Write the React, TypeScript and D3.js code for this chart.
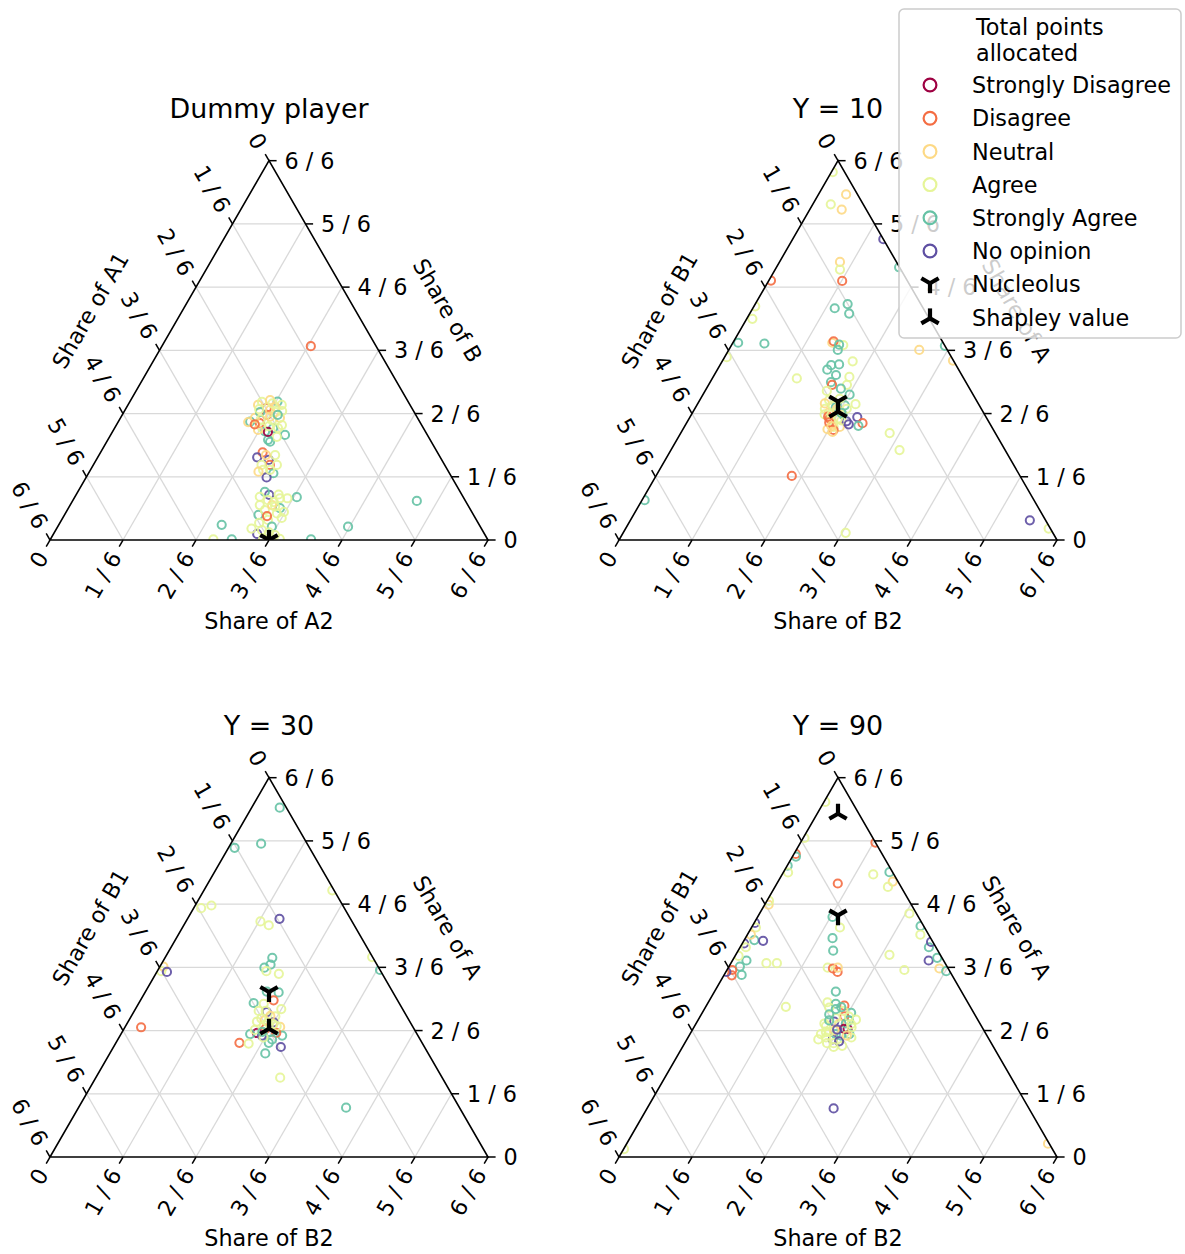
import React from 'react';
import * as d3 from 'd3';

// ---------- data ----------
const CATEGORIES = ['Strongly Disagree', 'Disagree', 'Neutral', 'Agree', 'Strongly Agree', 'No opinion'];
const COLORS = ['#9e0142', '#f46d43', '#fdd985', '#e6f598', '#66c2a5', '#5e4fa2'];
const TICK_VALUES = [0, 1, 2, 3, 4, 5, 6];
const TICK_LABELS = ['0', '1 / 6', '2 / 6', '3 / 6', '4 / 6', '5 / 6', '6 / 6'];
const TITLES = ['Dummy player', 'Y = 10', 'Y = 30', 'Y = 90'];
const LEFT_LABELS = ['Share of A1', 'Share of B1', 'Share of B1', 'Share of B1'];
const BOTTOM_LABELS = ['Share of A2', 'Share of B2', 'Share of B2', 'Share of B2'];
const RIGHT_LABELS = ['Share of B', 'Share of A', 'Share of A', 'Share of A'];

// points: [share of top corner, share of right corner, category index]
const DUMMY_POINTS: number[][] = [
  [0.365, 0.337, 4], [0.356, 0.351, 3], [0.308, 0.325, 1], [0.312, 0.301, 4], [0.277, 0.398, 4], [0.259, 0.373, 4],
  [0.272, 0.382, 3], [0.286, 0.348, 4], [0.330, 0.330, 1], [0.348, 0.321, 1], [0.295, 0.362, 4], [0.264, 0.366, 4],
  [0.356, 0.297, 2], [0.364, 0.302, 3], [0.343, 0.331, 2], [0.337, 0.347, 3], [0.322, 0.307, 2], [0.295, 0.337, 3],
  [0.316, 0.349, 3], [0.322, 0.364, 2], [0.295, 0.373, 3], [0.311, 0.297, 2], [0.369, 0.318, 2], [0.285, 0.355, 0],
  [0.303, 0.378, 3], [0.337, 0.311, 4], [0.350, 0.340, 2], [0.340, 0.360, 3], [0.325, 0.340, 2], [0.300, 0.350, 3],
  [0.318, 0.322, 3], [0.345, 0.305, 3], [0.290, 0.330, 2], [0.360, 0.328, 3], [0.305, 0.315, 1], [0.330, 0.355, 4],
  [0.231, 0.370, 1], [0.218, 0.364, 5], [0.211, 0.394, 5], [0.198, 0.403, 1], [0.224, 0.402, 3], [0.198, 0.384, 3],
  [0.185, 0.394, 3], [0.176, 0.422, 4], [0.165, 0.412, 5], [0.180, 0.386, 2], [0.198, 0.419, 3], [0.224, 0.381, 2],
  [0.185, 0.410, 3],
  [0.119, 0.441, 5], [0.127, 0.427, 4], [0.113, 0.507, 4], [0.110, 0.470, 3], [0.110, 0.487, 3], [0.114, 0.422, 3],
  [0.066, 0.443, 4], [0.084, 0.483, 4], [0.070, 0.483, 3], [0.079, 0.451, 3], [0.053, 0.471, 3], [0.035, 0.489, 4],
  [0.016, 0.465, 5], [0.026, 0.471, 3], [0.013, 0.507, 3], [0.003, 0.523, 3], [0.092, 0.433, 3], [0.100, 0.461, 3],
  [0.063, 0.464, 1], [0.003, 0.485, 3], [0.092, 0.461, 2], [0.074, 0.497, 3], [0.045, 0.455, 3], [0.058, 0.500, 3],
  [0.030, 0.445, 3], [0.088, 0.470, 3], [0.105, 0.445, 3], [0.020, 0.490, 3], [0.120, 0.462, 3],
  [0.040, 0.372, 4], [0.002, 0.372, 3], [0.002, 0.414, 4], [0.002, 0.595, 4], [0.035, 0.663, 4], [0.103, 0.786, 4],
  [0.511, 0.340, 1],
];

const Y10_POINTS: number[][] = [
  [0.970, 0.003, 3], [0.911, 0.063, 2], [0.885, 0.041, 3], [0.871, 0.073, 2], [0.793, 0.207, 5], [0.733, 0.138, 2],
  [0.713, 0.148, 3], [0.683, 0.168, 1], [0.684, 0.005, 1], [0.719, 0.280, 4], [0.611, 0.187, 4], [0.622, 0.211, 4],
  [0.597, 0.227, 4], [0.616, 0.003, 3], [0.583, 0.013, 3], [0.520, 0.012, 4], [0.518, 0.073, 4], [0.482, 0.005, 3],
  [0.520, 0.227, 2], [0.524, 0.228, 1], [0.514, 0.255, 3], [0.515, 0.245, 4], [0.501, 0.249, 4], [0.501, 0.435, 2],
  [0.512, 0.488, 4], [0.473, 0.526, 2], [0.471, 0.298, 3], [0.461, 0.254, 4], [0.463, 0.271, 4], [0.426, 0.193, 3],
  [0.449, 0.251, 4], [0.435, 0.278, 4], [0.430, 0.311, 3], [0.416, 0.276, 4], [0.409, 0.282, 1], [0.409, 0.316, 3],
  [0.399, 0.307, 4], [0.393, 0.278, 3], [0.383, 0.335, 4], [0.358, 0.361, 3], [0.369, 0.295, 3], [0.346, 0.297, 3],
  [0.355, 0.338, 4], [0.336, 0.311, 2], [0.331, 0.304, 3], [0.324, 0.382, 5], [0.308, 0.402, 1], [0.301, 0.396, 4],
  [0.308, 0.334, 2], [0.320, 0.321, 1], [0.298, 0.355, 2], [0.313, 0.363, 5], [0.298, 0.341, 3], [0.331, 0.345, 4],
  [0.346, 0.347, 3], [0.282, 0.477, 3], [0.237, 0.522, 3], [0.169, 0.310, 1], [0.105, 0.006, 4], [0.052, 0.912, 5],
  [0.030, 0.966, 3], [0.019, 0.508, 3], [0.360, 0.290, 2], [0.325, 0.315, 1], [0.290, 0.345, 1], [0.292, 0.330, 2],
  [0.340, 0.330, 3], [0.315, 0.350, 3], [0.350, 0.320, 4], [0.372, 0.318, 3], [0.305, 0.372, 5],
  [0.330, 0.320, 3], [0.345, 0.325, 2], [0.320, 0.340, 3], [0.310, 0.325, 1], [0.300, 0.335, 2], [0.335, 0.340, 4],
  [0.355, 0.310, 3], [0.285, 0.345, 2],
];

const Y30_POINTS: number[][] = [
  [0.921, 0.064, 4], [0.815, 0.014, 4], [0.826, 0.069, 4], [0.703, 0.293, 3], [0.656, 0.017, 3], [0.663, 0.037, 3],
  [0.621, 0.170, 3], [0.611, 0.194, 3], [0.628, 0.210, 5], [0.525, 0.245, 4], [0.507, 0.250, 4], [0.499, 0.240, 4],
  [0.490, 0.249, 3], [0.483, 0.281, 3], [0.502, 0.008, 2], [0.490, 0.009, 3], [0.488, 0.023, 5], [0.527, 0.472, 3],
  [0.493, 0.507, 4], [0.434, 0.305, 4], [0.436, 0.277, 4], [0.406, 0.262, 4], [0.413, 0.304, 1], [0.404, 0.286, 3],
  [0.390, 0.333, 3], [0.382, 0.304, 5], [0.385, 0.284, 3], [0.371, 0.329, 3], [0.357, 0.294, 3], [0.355, 0.333, 5],
  [0.348, 0.314, 3], [0.343, 0.354, 2], [0.338, 0.323, 1], [0.329, 0.338, 4], [0.327, 0.309, 0], [0.324, 0.295, 4],
  [0.320, 0.324, 5], [0.320, 0.370, 4], [0.327, 0.353, 1], [0.310, 0.352, 4], [0.301, 0.349, 4], [0.290, 0.382, 5],
  [0.301, 0.282, 1], [0.299, 0.304, 3], [0.273, 0.355, 4], [0.209, 0.421, 3], [0.130, 0.611, 4], [0.342, 0.037, 1],
  [0.385, 0.300, 3], [0.372, 0.317, 2], [0.350, 0.335, 3], [0.335, 0.300, 3], [0.360, 0.310, 2], [0.315, 0.330, 3],
  [0.345, 0.345, 3], [0.355, 0.320, 3], [0.330, 0.320, 4], [0.365, 0.300, 3],
];

const Y90_POINTS: number[][] = [
  [0.936, 0.003, 3], [0.841, 0.003, 3], [0.829, 0.171, 1], [0.799, 0.004, 1], [0.792, 0.008, 4], [0.768, 0.001, 4],
  [0.750, 0.011, 3], [0.721, 0.139, 1], [0.745, 0.208, 3], [0.751, 0.242, 4], [0.726, 0.262, 2], [0.712, 0.258, 3],
  [0.665, 0.009, 2], [0.675, 0.005, 3], [0.633, 0.171, 4], [0.605, 0.202, 3], [0.642, 0.342, 3], [0.617, 0.002, 5],
  [0.605, 0.010, 3], [0.572, 0.023, 4], [0.570, 0.044, 5], [0.563, 0.004, 5], [0.586, 0.008, 2], [0.553, 0.013, 3],
  [0.609, 0.384, 4], [0.586, 0.395, 3], [0.553, 0.431, 4], [0.567, 0.429, 5], [0.518, 0.448, 5], [0.525, 0.464, 4],
  [0.497, 0.483, 2], [0.490, 0.502, 4], [0.533, 0.351, 3], [0.493, 0.405, 3], [0.577, 0.199, 4], [0.544, 0.217, 4],
  [0.511, 0.081, 3], [0.511, 0.105, 3], [0.518, 0.032, 4], [0.502, 0.025, 4], [0.493, 0.012, 1], [0.479, 0.018, 1],
  [0.480, 0.040, 4], [0.488, 0.001, 5], [0.530, 0.008, 3], [0.499, 0.227, 3], [0.497, 0.240, 1], [0.488, 0.255, 1],
  [0.499, 0.250, 2], [0.396, 0.183, 3], [0.436, 0.277, 4], [0.128, 0.426, 5], [0.035, 0.962, 2], [0.021, 0.001, 3],
  [0.399, 0.315, 1], [0.380, 0.340, 4], [0.408, 0.272, 3], [0.404, 0.293, 4], [0.362, 0.360, 3], [0.357, 0.313, 5],
  [0.352, 0.293, 3], [0.371, 0.329, 1], [0.338, 0.353, 0], [0.329, 0.308, 3], [0.310, 0.333, 5], [0.320, 0.347, 4],
  [0.293, 0.363, 3], [0.324, 0.364, 4], [0.315, 0.373, 3], [0.394, 0.283, 3], [0.352, 0.327, 2], [0.352, 0.342, 4],
  [0.324, 0.299, 3], [0.338, 0.345, 0], [0.324, 0.333, 4], [0.366, 0.312, 3], [0.376, 0.292, 4], [0.334, 0.325, 2],
  [0.345, 0.300, 3], [0.300, 0.340, 3], [0.385, 0.320, 3], [0.360, 0.345, 4], [0.315, 0.315, 3], [0.305, 0.350, 5],
  [0.390, 0.300, 4], [0.342, 0.360, 3], [0.330, 0.315, 3], [0.300, 0.325, 3], [0.370, 0.340, 3], [0.350, 0.355, 3],
  [0.320, 0.360, 2], [0.395, 0.310, 4], [0.310, 0.300, 3], [0.336, 0.330, 5], [0.360, 0.300, 4], [0.290, 0.345, 3],
];

const PANEL_POINTS = [DUMMY_POINTS, Y10_POINTS, Y30_POINTS, Y90_POINTS];
// [share of top corner, share of right corner]
const NUCLEOLUS = [[0.0, 0.5], [0.365, 0.3175], [0.435, 0.2825], [0.637, 0.1815]];
const SHAPLEY = [[0.0, 0.5], [0.338, 0.331], [0.338, 0.331], [0.905, 0.0475]];

// ---------- layout ----------
const WIDTH = 1185;
const HEIGHT = 1254;
const SIDE = 438;
const TRI_H = SIDE * Math.sqrt(3) / 2;
const ORIGINS = [[50, 540], [619, 540], [50, 1157], [619, 1157]];
const FONT = 'DejaVu Sans, Liberation Sans, sans-serif';
const FS = 22.3;
const TITLE_FS = 26.9;
const TICK_LEN = 7.6;
const LABEL_OFF = 15.4;
const S3 = Math.sqrt(3) / 2;

function TriMarker({ x, y, down, L = 10, sw = 4.2 }: { x: number; y: number; down: boolean; L?: number; sw?: number }) {
  const arms = down ? [[0, 1], [-S3, -0.5], [S3, -0.5]] : [[0, -1], [-S3, 0.5], [S3, 0.5]];
  return (
    <g>
      {arms.map(([dx, dy], i) => (
        <line key={i} x1={x} y1={y} x2={x + dx * L} y2={y + dy * L} stroke="black" strokeWidth={sw} />
      ))}
    </g>
  );
}

function Ternary({ idx }: { idx: number }) {
  const [x0, y0] = ORIGINS[idx];
  const xs = d3.scaleLinear().domain([0, 1]).range([x0, x0 + SIDE]);
  const ys = d3.scaleLinear().domain([0, 1]).range([y0, y0 - TRI_H]);
  const pos = (t: number, r: number): [number, number] => [xs(r + t / 2), ys(t)];
  const tri = d3.line()([pos(0, 0), pos(0, 1), pos(1, 0)]) + 'Z';
  const inner = TICK_VALUES.slice(1, 6).map((k) => k / 6);
  const clipId = `tri-clip-${idx}`;

  const grid: [number, number][][] = [];
  inner.forEach((v) => {
    grid.push([pos(v, 0), pos(v, 1 - v)]); // constant top share
    grid.push([pos(0, v), pos(1 - v, v)]); // constant right share
    grid.push([pos(1 - v, 0), pos(0, 1 - v)]); // constant left share
  });

  const pts = PANEL_POINTS[idx];
  const nuc = NUCLEOLUS[idx];
  const shp = SHAPLEY[idx];
  const [nx, ny] = pos(nuc[0], nuc[1]);
  const [sx, sy] = pos(shp[0], shp[1]);

  const rightMid = pos(0.5, 0.5);
  const leftMid = pos(0.5, 0);

  return (
    <g fontFamily={FONT}>
      <defs>
        <clipPath id={clipId}><path d={tri} /></clipPath>
      </defs>
      <text x={xs(0.5)} y={ys(1) - 43} fontSize={TITLE_FS} textAnchor="middle">{TITLES[idx]}</text>
      {grid.map((g, i) => (
        <line key={i} x1={g[0][0]} y1={g[0][1]} x2={g[1][0]} y2={g[1][1]} stroke="#d9d9d9" strokeWidth={1.3} />
      ))}
      <g clipPath={`url(#${clipId})`}>
        {pts.map((p, i) => {
          const [px, py] = pos(p[0], p[1]);
          return <circle key={i} cx={px} cy={py} r={4.1} fill="none" stroke={COLORS[p[2]]} strokeWidth={2} opacity={0.9} />;
        })}
        <TriMarker x={nx} y={ny} down={true} />
        <TriMarker x={sx} y={sy} down={false} />
      </g>
      <path d={tri} fill="none" stroke="black" strokeWidth={1.6} />
      {/* right axis ticks (top share) */}
      {TICK_VALUES.map((k, i) => {
        const v = k / 6;
        const [px, py] = pos(v, 1 - v);
        return (
          <g key={'r' + i}>
            <line x1={px} y1={py} x2={px + TICK_LEN} y2={py} stroke="black" strokeWidth={1.5} />
            <text x={px + LABEL_OFF} y={py} dy="0.36em" fontSize={FS}>{TICK_LABELS[i]}</text>
          </g>
        );
      })}
      {/* left axis ticks (left share, 0 at top) */}
      {TICK_VALUES.map((k, i) => {
        const v = k / 6;
        const [px, py] = pos(1 - v, 0);
        const dx = -0.5, dy = -S3;
        const lx = px + dx * LABEL_OFF, ly = py + dy * LABEL_OFF;
        return (
          <g key={'l' + i}>
            <line x1={px} y1={py} x2={px + dx * TICK_LEN} y2={py + dy * TICK_LEN} stroke="black" strokeWidth={1.5} />
            <text x={lx} y={ly} dy="0.36em" fontSize={FS} textAnchor="end" transform={`rotate(60 ${lx} ${ly})`}>{TICK_LABELS[i]}</text>
          </g>
        );
      })}
      {/* bottom axis ticks (right share) */}
      {TICK_VALUES.map((k, i) => {
        const v = k / 6;
        const [px, py] = pos(0, v);
        const dx = -0.5, dy = S3;
        const lx = px + dx * LABEL_OFF, ly = py + dy * LABEL_OFF;
        return (
          <g key={'b' + i}>
            <line x1={px} y1={py} x2={px + dx * TICK_LEN} y2={py + dy * TICK_LEN} stroke="black" strokeWidth={1.5} />
            <text x={lx} y={ly} dy="0.36em" fontSize={FS} textAnchor="end" transform={`rotate(-60 ${lx} ${ly})`}>{TICK_LABELS[i]}</text>
          </g>
        );
      })}
      {/* axis labels */}
      <text x={xs(0.5)} y={ys(0) + 81} dy="0.36em" fontSize={FS} textAnchor="middle">{BOTTOM_LABELS[idx]}</text>
      {(() => {
        const cx = rightMid[0] + 80 * S3, cy = rightMid[1] - 80 * 0.5;
        return <text x={cx} y={cy} dy="0.36em" fontSize={FS} textAnchor="middle" transform={`rotate(60 ${cx} ${cy})`}>{RIGHT_LABELS[idx]}</text>;
      })()}
      {(() => {
        const cx = leftMid[0] - 80 * S3, cy = leftMid[1] - 80 * 0.5;
        return <text x={cx} y={cy} dy="0.36em" fontSize={FS} textAnchor="middle" transform={`rotate(-60 ${cx} ${cy})`}>{LEFT_LABELS[idx]}</text>;
      })()}
    </g>
  );
}

function Legend() {
  const x0 = 899, y0 = 9, w = 282, h = 329;
  const rowY = (i: number) => 85 + i * 33.2;
  return (
    <g fontFamily={FONT} fontSize={FS}>
      <rect x={x0} y={y0} width={w} height={h} rx={5} fill="white" fillOpacity={0.8} stroke="#cccccc" strokeWidth={1.5} />
      <text x={976} y={35}>Total points</text>
      <text x={976} y={60.5}>allocated</text>
      {CATEGORIES.map((c, i) => (
        <g key={c}>
          <circle cx={930} cy={rowY(i)} r={6.4} fill="none" stroke={COLORS[i]} strokeWidth={2.2} />
          <text x={972} y={rowY(i) + 8.1}>{c}</text>
        </g>
      ))}
      <TriMarker x={930} y={rowY(6) - 1} down={true} L={10} sw={4.2} />
      <text x={972} y={rowY(6) + 8.1}>Nucleolus</text>
      <TriMarker x={930} y={rowY(7) + 1} down={false} L={10} sw={4.2} />
      <text x={972} y={rowY(7) + 8.1}>Shapley value</text>
    </g>
  );
}

export default function App() {
  return (
    <svg width={WIDTH} height={HEIGHT} style={{ position: 'absolute', left: 0, top: 0, background: 'white' }}>
      <rect x={0} y={0} width={WIDTH} height={HEIGHT} fill="white" />
      {[0, 1, 2, 3].map((i) => <Ternary key={i} idx={i} />)}
      <Legend />
    </svg>
  );
}
